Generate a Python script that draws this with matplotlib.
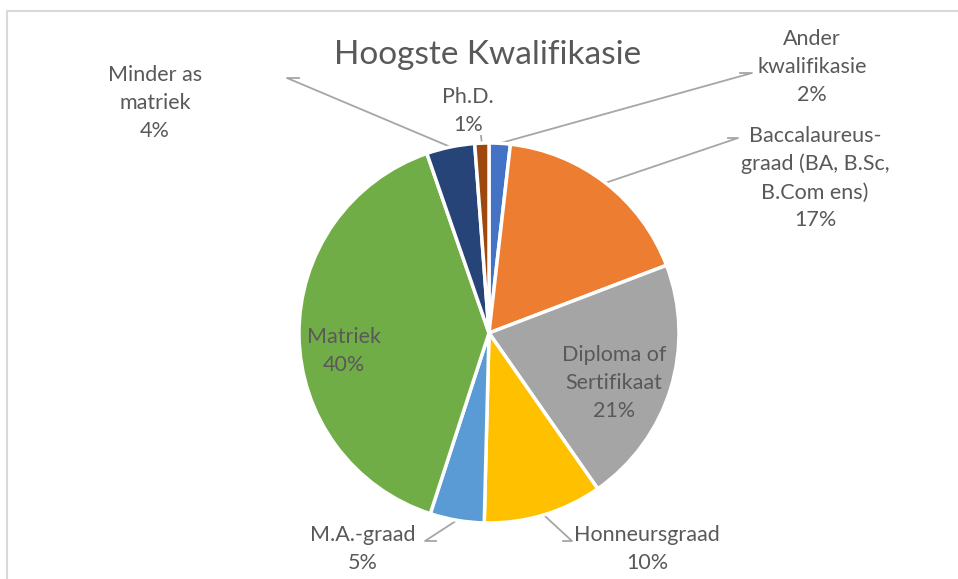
import matplotlib
matplotlib.use("Agg")
import matplotlib.pyplot as plt
import numpy as np

categories = ["Ander\nkwalifikasie", "Baccalaureus-\ngraad (BA, B.Sc,\nB.Com ens)",
              "Diploma of\nSertifikaat", "Honneursgraad", "M.A.-graad",
              "Matriek", "Minder as\nmatriek", "Ph.D."]
values = [1.8, 17.4, 21.1, 10.1, 4.6, 39.7, 4.1, 1.2]
colors = ["#4472C4", "#ED7D31", "#A5A5A5", "#FFC000", "#5B9BD5",
          "#70AD47", "#264478", "#9E480E"]
title = "Hoogste Kwalifikasie"

W, H = 958, 579
fig = plt.figure(figsize=(W / 100, H / 100), dpi=100)
ax = fig.add_axes([0, 0, 1, 1])

FONT = "Lato"
TC = "#595959"
cx, cy, r = 489, H - 333, 190

wedges, _ = ax.pie(values, colors=colors, startangle=90, counterclock=False,
                   center=(cx, cy), radius=r, frame=True,
                   wedgeprops=dict(edgecolor="white", linewidth=2.5))
ax.set_xlim(0, W)
ax.set_ylim(0, H)
ax.set_aspect("equal")
ax.axis("off")

total = sum(values)
pcts = [f"{round(v / total * 100):d}%" for v in values]

# label placement: (text center x, text block center y in pixels, leader path)
layout = [
    (812, 67, [(752, 73), (740, 73)]),
    (815, 178, [(738, 138), (728, 138)]),
    (614, 383, None),
    (647, 549, [(572, 541), (563, 541)]),
    (363, 549, [(425, 541), (436, 541)]),
    (344, 351, None),
    (155, 103, [(287, 78), (299, 78)]),
    (468, 111, [(481, 136)]),
]

for w, cat, pct, (tx, ty, path) in zip(wedges, categories, pcts, layout):
    ax.text(tx, H - ty, cat + "\n" + pct, ha="center", va="center",
            fontsize=15.5, color=TC, family=FONT, linespacing=1.5)
    if path:
        mid = np.deg2rad((w.theta1 + w.theta2) / 2)
        px, py = cx + r * np.cos(mid), cy + r * np.sin(mid)
        xs = [p[0] for p in path][::-1] + [px]
        ys = [H - p[1] for p in path][::-1] + [py]
        ax.plot(xs, ys, color="#A6A6A6", lw=1.3, zorder=0.5)

ax.text(488, H - 55, title, ha="center", va="center", fontsize=24,
        color=TC, family=FONT)

# chart frame
ax.plot([7, 7, W], [0, H - 11, H - 11], color="#D9D9D9", lw=1.5, clip_on=False)

fig.savefig("out.png", dpi=100, facecolor="white")
